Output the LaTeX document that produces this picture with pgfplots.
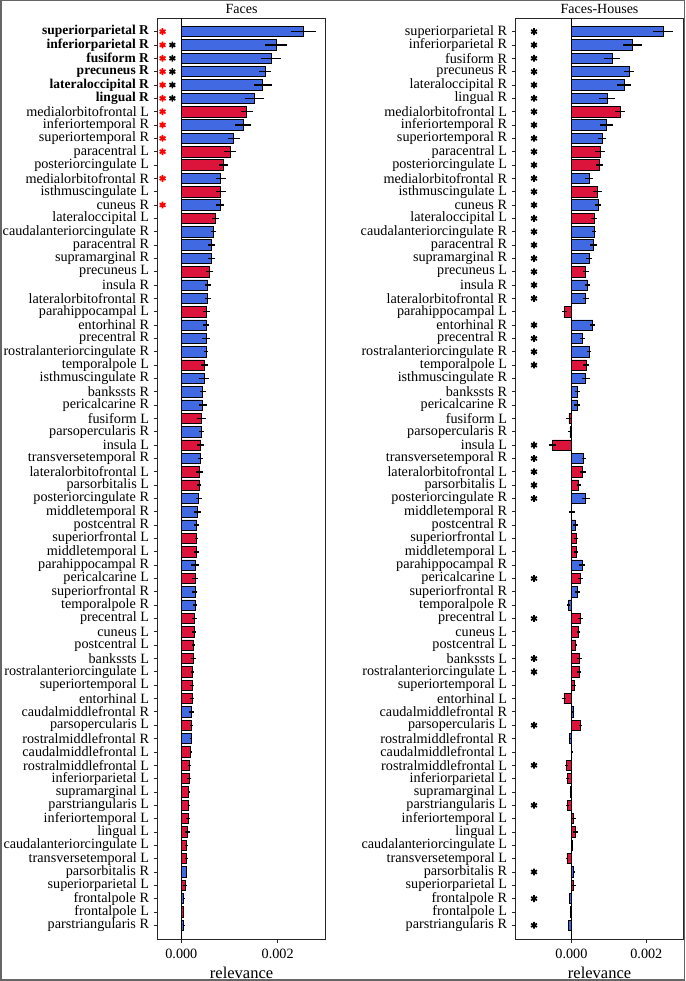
\documentclass[border=0pt]{standalone}
\usepackage{fontspec}
\setmainfont{Liberation Serif}
\usepackage{pgfplots}
\usepackage{pgfplotstable}
\pgfplotsset{compat=1.18}

\definecolor{rblue}{HTML}{4169E1}
\definecolor{lred}{HTML}{DC143C}

% Faces: index, relevance, error
\pgfplotstableread{
i v e
0 0.00254 0.000263
1 0.00197 0.000232
2 0.00186 0.000204
3 0.00174 0.000125
4 0.00169 0.000187
5 0.00152 0.000204
7 0.00129 0.000166
8 0.00109 0.000125
11 0.00082 0.000097
13 0.00080 0.000080
15 0.00067 0.000059
16 0.00063 0.000076
17 0.00062 0.000076
19 0.00055 0.000069
20 0.00055 0.000069
22 0.00051 0.000055
23 0.00051 0.000076
24 0.00051 0.000048
26 0.00047 0.000104
27 0.00044 0.000062
28 0.00044 0.000083
30 0.00042 0.000052
32 0.00040 0.000045
35 0.00036 0.000066
36 0.00033 0.000076
37 0.00032 0.000052
40 0.00029 0.000080
42 0.00028 0.000052
43 0.00028 0.000042
51 0.00021 0.000042
53 0.00021 0.000021
63 0.00010 0.000007
65 0.000048 0.000005
67 0.000048 0.000005
}\facesR
\pgfplotstableread{
i v e
6 0.00136 0.000131
9 0.00101 0.000121
10 0.00088 0.000093
12 0.00082 0.000107
14 0.00071 0.000069
18 0.00059 0.000073
21 0.00052 0.000066
25 0.00048 0.000069
29 0.00042 0.000087
31 0.00040 0.000066
33 0.00038 0.000069
34 0.00037 0.000042
38 0.00032 0.000028
39 0.00031 0.000052
41 0.00029 0.000059
44 0.00027 0.000048
45 0.00026 0.000035
46 0.00025 0.000028
47 0.00025 0.000048
48 0.00023 0.000028
49 0.00022 0.000035
50 0.00022 0.000035
52 0.00021 0.000028
54 0.00019 0.000021
55 0.00017 0.000028
56 0.00016 0.000048
57 0.00015 0.000014
58 0.00015 0.000014
59 0.00014 0.000042
60 0.00013 0.000048
61 0.00011 0.000028
62 0.00010 0.000035
64 0.000076 0.000048
66 0.000042 0.000005
}\facesL
% Faces-Houses
\pgfplotstableread{
i v e
0 0.00245 0.000263
1 0.00163 0.000246
2 0.00108 0.000219
3 0.00154 0.000129
4 0.00140 0.000196
5 0.00095 0.000205
7 0.00093 0.000170
8 0.00082 0.000112
11 0.00048 0.000107
13 0.00071 0.000080
15 0.00060 0.000058
16 0.00059 0.000085
17 0.00048 0.000080
19 0.00043 0.000076
20 0.00038 0.000076
22 0.00057 0.000063
23 0.00029 0.000071
24 0.00048 0.000054
26 0.00038 0.000107
27 0.00016 0.000067
28 0.00016 0.000080
30 -0.00004 0.000054
32 0.00033 0.000058
35 0.00038 0.000107
36 0.00001 0.000080
37 0.00011 0.000063
40 0.00028 0.000076
42 0.00017 0.000063
43 -0.00008 0.000040
51 0.00005 0.000027
53 -0.00005 0.000027
63 0.00006 0.000018
65 -0.00006 0.000009
67 -0.00008 0.000018
}\fhR
\pgfplotstableread{
i v e
6 0.00130 0.000134
9 0.00076 0.000129
10 0.00075 0.000094
12 0.00070 0.000112
14 0.00060 0.000071
18 0.00038 0.000085
21 -0.00018 0.000071
25 0.00039 0.000071
29 -0.00007 0.000076
31 -0.00050 0.000089
33 0.00030 0.000076
34 0.00019 0.000054
38 0.00013 0.000054
39 0.00012 0.000058
41 0.00025 0.000071
44 0.00024 0.000067
45 0.00018 0.000045
46 0.00011 0.000027
47 0.00021 0.000058
48 0.00020 0.000045
49 0.00007 0.000045
50 -0.00020 0.000058
52 0.00024 0.000045
54 0.00001 0.000018
55 -0.00013 0.000036
56 -0.00010 0.000045
57 -0.00003 0.000018
58 -0.00010 0.000036
59 0.00006 0.000049
60 0.00011 0.000058
61 0.00002 0.000018
62 -0.00012 0.000036
64 0.00006 0.000049
66 -0.00003 0.000009
}\fhL

\pgfplotsset{
  panel/.style={
    scale only axis, width=168.5pt, height=921pt,
    anchor=south west, clip=false,
    y dir=reverse, ymin=-1.0, ymax=68.05,
    ytick={0,...,67},
    xtick={0,0.002}, xticklabels={0.000,0.002}, scaled x ticks=false,
    tick align=outside, tick pos=left, major tick length=3.5pt,
    every tick/.style={black!85, line width=0.8pt},
    axis line style={black!85, line width=1pt},
    ticklabel style={font=\fontsize{14.2}{14}\selectfont},
    yticklabel style={inner sep=4.6pt},
    xticklabel style={yshift=-3pt},
    xlabel={relevance},
    xlabel style={font=\fontsize{16.5}{16.5}\selectfont, yshift=-1pt},
    every axis title/.style={font=\fontsize{14}{14}\selectfont, at={(0.5,1)}, anchor=base, yshift=4.5pt},
  },
  hbar/.style={xbar, bar shift=0pt, bar width=10.4pt, draw=black, line width=0.7pt, fill=#1,
    error bars/.cd, x dir=both, x explicit, error mark=none,
    error bar style={black, line width=1.4pt}},
  star/.style={only marks, mark=asterisk, mark size=3.4pt, line width=1.7pt, #1},
}

\newcommand{\bl}[1]{\textbf{\fontsize{13.5}{14}\selectfont #1}}

\begin{document}
\begin{tikzpicture}[x=1pt,y=1pt]
\useasboundingbox (0,0) rectangle (685,981);
\draw[black!60, line width=1.5pt] (0.75,0.75) rectangle (684.25,980.25);

\begin{axis}[panel, at={(157.3pt,41.7pt)}, title={Faces},
  xmin=-0.0005, xmax=0.003,
  yticklabels={\bl{superiorparietal R},\bl{inferiorparietal R},\bl{fusiform R},\bl{precuneus R},\bl{lateraloccipital R},\bl{lingual R},
  medialorbitofrontal L,inferiortemporal R,superiortemporal R,paracentral L,posteriorcingulate L,medialorbitofrontal R,isthmuscingulate L,cuneus R,lateraloccipital L,caudalanteriorcingulate R,paracentral R,supramarginal R,precuneus L,insula R,lateralorbitofrontal R,parahippocampal L,entorhinal R,precentral R,rostralanteriorcingulate R,temporalpole L,isthmuscingulate R,bankssts R,pericalcarine R,fusiform L,parsopercularis R,insula L,transversetemporal R,lateralorbitofrontal L,parsorbitalis L,posteriorcingulate R,middletemporal R,postcentral R,superiorfrontal L,middletemporal L,parahippocampal R,pericalcarine L,superiorfrontal R,temporalpole R,precentral L,cuneus L,postcentral L,bankssts L,rostralanteriorcingulate L,superiortemporal L,entorhinal L,caudalmiddlefrontal R,parsopercularis L,rostralmiddlefrontal R,caudalmiddlefrontal L,rostralmiddlefrontal L,inferiorparietal L,supramarginal L,parstriangularis L,inferiortemporal L,lingual L,caudalanteriorcingulate L,transversetemporal L,parsorbitalis R,superiorparietal L,frontalpole R,frontalpole L,parstriangularis R},
]
\addplot[hbar=rblue] table[x=v, y=i, x error=e] {\facesR};
\addplot[hbar=lred] table[x=v, y=i, x error=e] {\facesL};
\draw[black, line width=1.3pt] ({axis cs:0,0}|-{rel axis cs:0,0}) -- ({axis cs:0,0}|-{rel axis cs:0,1});
\addplot[star=red] coordinates {(-0.00039,0) (-0.00039,1) (-0.00039,2) (-0.00039,3) (-0.00039,4) (-0.00039,5) (-0.00039,6) (-0.00039,7) (-0.00039,8) (-0.00039,9) (-0.00039,11) (-0.00039,13)};
\addplot[star=black] coordinates {(-0.000187,1) (-0.000187,2) (-0.000187,3) (-0.000187,4) (-0.000187,5)};
\end{axis}

\begin{axis}[panel, at={(515.3pt,41.7pt)}, title={Faces-Houses},
  xmin=-0.0015, xmax=0.003,
  yticklabels={superiorparietal R,inferiorparietal R,fusiform R,precuneus R,lateraloccipital R,lingual R,
  medialorbitofrontal L,inferiortemporal R,superiortemporal R,paracentral L,posteriorcingulate L,medialorbitofrontal R,isthmuscingulate L,cuneus R,lateraloccipital L,caudalanteriorcingulate R,paracentral R,supramarginal R,precuneus L,insula R,lateralorbitofrontal R,parahippocampal L,entorhinal R,precentral R,rostralanteriorcingulate R,temporalpole L,isthmuscingulate R,bankssts R,pericalcarine R,fusiform L,parsopercularis R,insula L,transversetemporal R,lateralorbitofrontal L,parsorbitalis L,posteriorcingulate R,middletemporal R,postcentral R,superiorfrontal L,middletemporal L,parahippocampal R,pericalcarine L,superiorfrontal R,temporalpole R,precentral L,cuneus L,postcentral L,bankssts L,rostralanteriorcingulate L,superiortemporal L,entorhinal L,caudalmiddlefrontal R,parsopercularis L,rostralmiddlefrontal R,caudalmiddlefrontal L,rostralmiddlefrontal L,inferiorparietal L,supramarginal L,parstriangularis L,inferiortemporal L,lingual L,caudalanteriorcingulate L,transversetemporal L,parsorbitalis R,superiorparietal L,frontalpole R,frontalpole L,parstriangularis R},
]
\addplot[hbar=rblue] table[x=v, y=i, x error=e] {\fhR};
\addplot[hbar=lred] table[x=v, y=i, x error=e] {\fhL};
\draw[black, line width=1.3pt] ({axis cs:0,0}|-{rel axis cs:0,0}) -- ({axis cs:0,0}|-{rel axis cs:0,1});
\addplot[star=black] coordinates {(-0.001,0) (-0.001,1) (-0.001,2) (-0.001,3) (-0.001,4) (-0.001,5) (-0.001,6) (-0.001,7) (-0.001,8) (-0.001,9) (-0.001,10) (-0.001,11) (-0.001,12) (-0.001,13) (-0.001,14) (-0.001,15) (-0.001,16) (-0.001,17) (-0.001,18) (-0.001,19) (-0.001,20) (-0.001,22) (-0.001,23) (-0.001,24) (-0.001,25) (-0.001,31) (-0.001,32) (-0.001,33) (-0.001,34) (-0.001,35) (-0.001,41) (-0.001,44) (-0.001,47) (-0.001,48) (-0.001,52) (-0.001,55) (-0.001,58) (-0.001,63) (-0.001,65) (-0.001,67)};
\end{axis}
\end{tikzpicture}
\end{document}
